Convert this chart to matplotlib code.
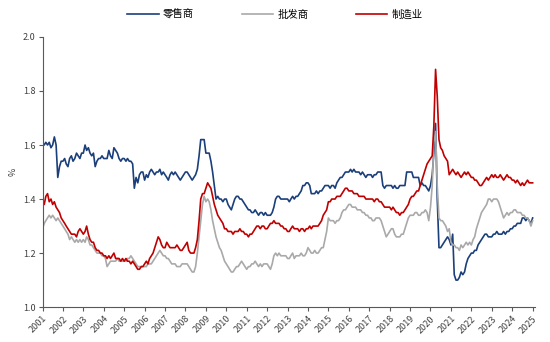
import matplotlib
matplotlib.use("Agg")
import matplotlib.pyplot as plt
import pandas as pd

plt.rcParams['font.family'] = ['Noto Sans CJK SC', 'DejaVu Sans']

series_names = ["零售商", "批发商", "制造业"]
series_colors = ["#1B3F7A", "#A9A9A9", "#C00000"]

# Inventory-to-sales ratio, monthly, Jan 2001 - Jan 2025
retail = [
    1.61, 1.60, 1.61, 1.60, 1.61, 1.59, 1.60, 1.63, 1.60, 1.48, 1.52, 1.54,  # 2001
    1.54, 1.55, 1.53, 1.52, 1.55, 1.56, 1.54, 1.55, 1.57, 1.56, 1.55, 1.57,  # 2002
    1.57, 1.60, 1.58, 1.59, 1.57, 1.56, 1.57, 1.52, 1.54, 1.55, 1.55, 1.56,  # 2003
    1.55, 1.55, 1.55, 1.58, 1.56, 1.55, 1.59, 1.58, 1.57, 1.55, 1.54, 1.55,  # 2004
    1.55, 1.54, 1.55, 1.54, 1.54, 1.53, 1.44, 1.48, 1.46, 1.49, 1.50, 1.50,  # 2005
    1.47, 1.49, 1.48, 1.50, 1.51, 1.50, 1.49, 1.50, 1.50, 1.51, 1.49, 1.50,  # 2006
    1.49, 1.48, 1.47, 1.49, 1.50, 1.49, 1.50, 1.49, 1.48, 1.47, 1.48, 1.49,  # 2007
    1.50, 1.50, 1.49, 1.48, 1.47, 1.48, 1.49, 1.51, 1.56, 1.62, 1.62, 1.62,  # 2008
    1.57, 1.57, 1.57, 1.54, 1.50, 1.45, 1.40, 1.41, 1.40, 1.40, 1.39, 1.40,  # 2009
    1.40, 1.38, 1.37, 1.36, 1.38, 1.40, 1.41, 1.41, 1.40, 1.40, 1.39, 1.38,  # 2010
    1.37, 1.36, 1.36, 1.35, 1.35, 1.36, 1.35, 1.34, 1.35, 1.35, 1.34, 1.35,  # 2011
    1.34, 1.34, 1.34, 1.35, 1.37, 1.40, 1.41, 1.41, 1.40, 1.40, 1.40, 1.40,  # 2012
    1.40, 1.39, 1.40, 1.41, 1.40, 1.41, 1.41, 1.42, 1.43, 1.45, 1.45, 1.46,  # 2013
    1.46, 1.45, 1.42, 1.42, 1.42, 1.43, 1.42, 1.43, 1.43, 1.44, 1.45, 1.45,  # 2014
    1.45, 1.44, 1.45, 1.45, 1.44, 1.46, 1.47, 1.48, 1.48, 1.49, 1.50, 1.50,  # 2015
    1.50, 1.51, 1.50, 1.51, 1.50, 1.50, 1.50, 1.49, 1.50, 1.49, 1.48, 1.49,  # 2016
    1.49, 1.49, 1.48, 1.49, 1.49, 1.50, 1.50, 1.50, 1.45, 1.44, 1.45, 1.45,  # 2017
    1.45, 1.45, 1.44, 1.45, 1.44, 1.44, 1.45, 1.45, 1.45, 1.45, 1.50, 1.50,  # 2018
    1.50, 1.50, 1.48, 1.48, 1.48, 1.48, 1.45, 1.46, 1.45, 1.45, 1.44, 1.43,  # 2019
    1.45, 1.49, 1.57, 1.68, 1.40, 1.22, 1.22, 1.23, 1.24, 1.25, 1.26, 1.25,  # 2020
    1.23, 1.27, 1.12, 1.10, 1.10, 1.11, 1.13, 1.12, 1.13, 1.16, 1.18, 1.19,  # 2021
    1.20, 1.20, 1.21, 1.21, 1.23, 1.24, 1.25, 1.26, 1.27, 1.27, 1.26, 1.26,  # 2022
    1.26, 1.27, 1.27, 1.28, 1.27, 1.27, 1.27, 1.28, 1.27, 1.28, 1.28, 1.29,  # 2023
    1.29, 1.30, 1.30, 1.31, 1.31, 1.31, 1.33, 1.33, 1.32, 1.33, 1.32, 1.31,  # 2024
    1.33,                                                                    # 2025
]

wholesale = [
    1.29, 1.31, 1.32, 1.33, 1.34, 1.33, 1.34, 1.33, 1.32, 1.33, 1.32, 1.31,  # 2001
    1.30, 1.29, 1.28, 1.27, 1.25, 1.26, 1.25, 1.24, 1.25, 1.24, 1.25, 1.24,  # 2002
    1.25, 1.24, 1.26, 1.25, 1.23, 1.23, 1.22, 1.21, 1.20, 1.20, 1.20, 1.19,  # 2003
    1.19, 1.18, 1.15, 1.16, 1.17, 1.17, 1.17, 1.17, 1.18, 1.17, 1.17, 1.17,  # 2004
    1.17, 1.17, 1.18, 1.18, 1.19, 1.18, 1.17, 1.16, 1.15, 1.15, 1.15, 1.15,  # 2005
    1.15, 1.15, 1.16, 1.16, 1.16, 1.17, 1.18, 1.19, 1.20, 1.21, 1.20, 1.19,  # 2006
    1.19, 1.18, 1.18, 1.17, 1.16, 1.16, 1.16, 1.15, 1.15, 1.15, 1.16, 1.16,  # 2007
    1.16, 1.16, 1.15, 1.14, 1.13, 1.13, 1.15, 1.20, 1.26, 1.32, 1.38, 1.41,  # 2008
    1.39, 1.40, 1.39, 1.36, 1.32, 1.29, 1.26, 1.24, 1.22, 1.21, 1.19, 1.17,  # 2009
    1.16, 1.15, 1.14, 1.13, 1.13, 1.14, 1.15, 1.15, 1.16, 1.17, 1.16, 1.15,  # 2010
    1.14, 1.15, 1.15, 1.16, 1.16, 1.17, 1.16, 1.15, 1.16, 1.15, 1.16, 1.16,  # 2011
    1.16, 1.15, 1.14, 1.16, 1.19, 1.20, 1.19, 1.20, 1.19, 1.19, 1.19, 1.19,  # 2012
    1.18, 1.18, 1.19, 1.20, 1.18, 1.19, 1.19, 1.19, 1.20, 1.19, 1.19, 1.20,  # 2013
    1.22, 1.21, 1.20, 1.20, 1.21, 1.20, 1.20, 1.21, 1.22, 1.22, 1.25, 1.28,  # 2014
    1.33, 1.32, 1.32, 1.32, 1.31, 1.32, 1.32, 1.33, 1.35, 1.36, 1.36, 1.37,  # 2015
    1.38, 1.38, 1.37, 1.37, 1.37, 1.36, 1.36, 1.36, 1.35, 1.35, 1.34, 1.34,  # 2016
    1.33, 1.33, 1.32, 1.32, 1.33, 1.33, 1.33, 1.32, 1.30, 1.28, 1.26, 1.27,  # 2017
    1.28, 1.29, 1.29, 1.27, 1.26, 1.26, 1.26, 1.27, 1.27, 1.29, 1.31, 1.33,  # 2018
    1.34, 1.34, 1.34, 1.35, 1.35, 1.34, 1.34, 1.35, 1.35, 1.36, 1.35, 1.32,  # 2019
    1.37, 1.45, 1.61, 1.65, 1.45, 1.33, 1.32, 1.32, 1.31, 1.30, 1.28, 1.29,  # 2020
    1.24, 1.23, 1.23, 1.22, 1.22, 1.21, 1.23, 1.22, 1.23, 1.24, 1.23, 1.24,  # 2021
    1.23, 1.25, 1.26, 1.29, 1.31, 1.33, 1.35, 1.36, 1.37, 1.38, 1.40, 1.40,  # 2022
    1.39, 1.40, 1.40, 1.40, 1.39, 1.37, 1.35, 1.33, 1.34, 1.35, 1.34, 1.35,  # 2023
    1.35, 1.36, 1.36, 1.35, 1.35, 1.35, 1.34, 1.34, 1.33, 1.33, 1.32, 1.30,  # 2024
    1.32,                                                                    # 2025
]

manufacturing = [
    1.40, 1.38, 1.41, 1.42, 1.39, 1.40, 1.38, 1.39, 1.37, 1.36, 1.35, 1.33,  # 2001
    1.32, 1.31, 1.30, 1.29, 1.28, 1.27, 1.27, 1.27, 1.26, 1.28, 1.29, 1.28,  # 2002
    1.27, 1.28, 1.30, 1.27, 1.25, 1.24, 1.24, 1.22, 1.21, 1.21, 1.20, 1.20,  # 2003
    1.19, 1.19, 1.18, 1.19, 1.18, 1.19, 1.20, 1.18, 1.18, 1.18, 1.17, 1.18,  # 2004
    1.17, 1.18, 1.17, 1.17, 1.16, 1.17, 1.16, 1.15, 1.14, 1.14, 1.15, 1.15,  # 2005
    1.16, 1.17, 1.16, 1.18, 1.19, 1.20, 1.22, 1.24, 1.26, 1.25, 1.23, 1.22,  # 2006
    1.22, 1.24, 1.23, 1.22, 1.22, 1.22, 1.22, 1.23, 1.22, 1.21, 1.21, 1.22,  # 2007
    1.23, 1.24, 1.21, 1.20, 1.20, 1.20, 1.22, 1.25, 1.32, 1.40, 1.42, 1.42,  # 2008
    1.44, 1.46, 1.45, 1.44, 1.41, 1.38, 1.36, 1.34, 1.33, 1.32, 1.31, 1.29,  # 2009
    1.29, 1.28, 1.28, 1.28, 1.27, 1.28, 1.28, 1.28, 1.29, 1.28, 1.28, 1.27,  # 2010
    1.27, 1.26, 1.27, 1.27, 1.28, 1.29, 1.30, 1.30, 1.29, 1.30, 1.30, 1.29,  # 2011
    1.29, 1.30, 1.31, 1.31, 1.32, 1.31, 1.31, 1.31, 1.30, 1.30, 1.29, 1.29,  # 2012
    1.28, 1.28, 1.29, 1.30, 1.29, 1.29, 1.29, 1.28, 1.29, 1.29, 1.28, 1.29,  # 2013
    1.29, 1.30, 1.29, 1.30, 1.30, 1.30, 1.30, 1.31, 1.32, 1.34, 1.35, 1.36,  # 2014
    1.39, 1.39, 1.40, 1.40, 1.40, 1.41, 1.41, 1.41, 1.42, 1.43, 1.44, 1.44,  # 2015
    1.43, 1.43, 1.43, 1.42, 1.42, 1.42, 1.41, 1.41, 1.41, 1.41, 1.40, 1.40,  # 2016
    1.40, 1.40, 1.40, 1.39, 1.40, 1.40, 1.39, 1.39, 1.38, 1.37, 1.37, 1.37,  # 2017
    1.37, 1.36, 1.37, 1.36, 1.35, 1.35, 1.34, 1.35, 1.35, 1.36, 1.37, 1.38,  # 2018
    1.40, 1.41, 1.41, 1.42, 1.43, 1.43, 1.45, 1.47, 1.49, 1.51, 1.53, 1.54,  # 2019
    1.55, 1.56, 1.67, 1.88, 1.78, 1.62, 1.59, 1.58, 1.56, 1.55, 1.54, 1.49,  # 2020
    1.50, 1.51, 1.50, 1.49, 1.50, 1.49, 1.48, 1.49, 1.50, 1.49, 1.50, 1.49,  # 2021
    1.48, 1.48, 1.47, 1.47, 1.46, 1.45, 1.45, 1.46, 1.47, 1.48, 1.47, 1.48,  # 2022
    1.49, 1.48, 1.49, 1.48, 1.48, 1.49, 1.48, 1.47, 1.48, 1.49, 1.48, 1.48,  # 2023
    1.47, 1.47, 1.46, 1.47, 1.46, 1.45, 1.46, 1.45, 1.46, 1.47, 1.46, 1.46,  # 2024
    1.46,                                                                    # 2025
]

year_labels = [str(y) for y in range(2001, 2026)]
y_ticks = [1.0, 1.2, 1.4, 1.6, 1.8, 2.0]

dates = pd.date_range("2001-01-01", periods=len(retail), freq="MS")

fig = plt.figure(figsize=(5.5, 3.42), dpi=100)
ax = fig.add_axes([0.0773, 0.102, 0.8957, 0.790])

for values, name, color in zip([retail, wholesale, manufacturing], series_names, series_colors):
    ax.plot(dates, values, color=color, lw=1.2, label=name)

ax.set_ylim(1.0, 2.0)
ax.set_yticks(y_ticks)
ax.set_yticklabels([f"{v:.1f}" for v in y_ticks])

year_ticks = pd.to_datetime([f"{y}-01-01" for y in year_labels])
ax.set_xticks(year_ticks)
ax.set_xticklabels(year_labels, rotation=45, ha="right", rotation_mode="anchor")
ax.set_xlim(year_ticks[0], pd.Timestamp("2025-02-15"))

axis_color = "#595959"
for side in ["top", "right"]:
    ax.spines[side].set_visible(False)
for side in ["left", "bottom"]:
    ax.spines[side].set_color(axis_color)
    ax.spines[side].set_linewidth(0.8)
ax.tick_params(axis="both", direction="out", length=3, width=0.8, color=axis_color,
               labelsize=6.5, labelcolor="#404040", pad=2)

ax.set_ylabel("%", fontsize=6.5, color="#404040", labelpad=4)

fig.legend(loc="upper center", bbox_to_anchor=(0.5, 1.0), ncol=3, frameon=False,
           fontsize=7.5, handlelength=3.0, columnspacing=4.6, handletextpad=0.4)

fig.savefig("out.png", dpi=100)
